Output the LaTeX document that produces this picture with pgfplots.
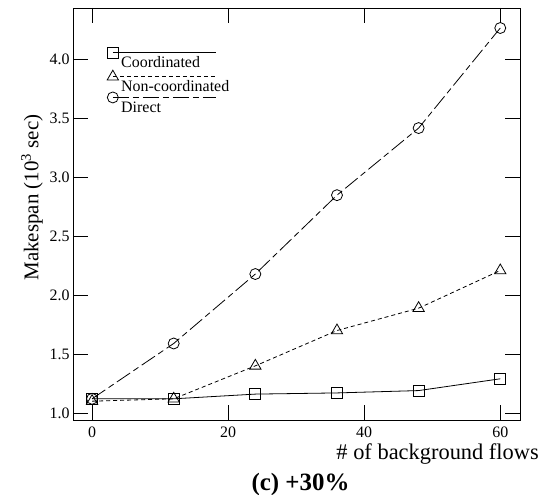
\documentclass[border=0pt]{standalone}
\usepackage{fontspec}
\setmainfont{Liberation Serif}
\usepackage{pgfplots}
\pgfplotsset{compat=1.18}
\newcommand{\legtext}[1]{\makebox[0pt][l]{\hspace*{-97bp}\raisebox{-16bp}[0pt][0pt]{#1}}}
\begin{document}
\begin{tikzpicture}
\begin{axis}[
  name=ax,
  scale only axis,
  width=447bp, height=412bp,
  xmin=-2.8, xmax=62.9,
  ymin=0.94, ymax=4.44,
  xtick={0,20,40,60},
  ytick={1.0,1.5,2.0,2.5,3.0,3.5,4.0},
  yticklabel style={/pgf/number format/fixed, /pgf/number format/fixed zerofill, /pgf/number format/precision=1},
  /pgf/number format/assume math mode=true,
  tick align=inside,
  major tick length=15bp,
  tick style={black, line width=0.8bp},
  axis line style={line width=0.8bp},
  ticklabel style={font=\fontsize{16}{18}\selectfont},
  xticklabel style={yshift=-3bp},
  xlabel={\# of background flows},
  ylabel={Makespan (10\textsuperscript{3} sec)},
  xlabel style={font=\fontsize{22.5}{26}\selectfont, at={(rel axis cs:1,0)}, anchor=north east, yshift=-24bp, xshift=19bp, inner sep=0pt},
  ylabel style={font=\fontsize{21}{24}\selectfont, at={(ticklabel cs:0.54)}},
  legend cell align=left,
  legend style={draw=none, fill=none, at={(rel axis cs:0.0,1)}, anchor=north west,
    xshift=34bp, yshift=-39bp, inner sep=0pt,
    font=\fontsize{16}{18}\selectfont,
    row sep=12bp},
  legend image code/.code={\draw[mark repeat=2, mark phase=1, #1] plot coordinates {(0bp,0bp) (103bp,0bp)};},
  every axis plot/.append style={line width=0.8bp, black, mark size=5.5bp, mark options={solid, fill=white, line width=0.8bp}},
  clip=false,
]
\addplot[mark=square] coordinates {(0,1.12) (12,1.12) (24,1.16) (36,1.17) (48,1.19) (60,1.29)};
\addlegendentry{\legtext{Coordinated}}
\addplot[dashed, dash pattern=on 4bp off 3bp, mark=triangle, mark size=6.5bp] coordinates {(0,1.10) (12,1.12) (24,1.40) (36,1.70) (48,1.89) (60,2.21)};
\addlegendentry{\legtext{Non-coordinated}}
\addplot[dash pattern=on 16bp off 4bp on 6bp off 4bp, mark=o] coordinates {(0,1.12) (12,1.59) (24,2.18) (36,2.85) (48,3.42) (60,4.27)};
\addlegendentry{\legtext{Direct}}
\end{axis}
\node[font=\bfseries\fontsize{25}{28}\selectfont, anchor=base] at ([yshift=-70bp, xshift=4bp]ax.south) {(c) +30\%};
\pgfresetboundingbox
\path[use as bounding box] ([xshift=-73bp,yshift=-75bp]ax.south west) rectangle ([xshift=22bp,yshift=8bp]ax.north east);
\end{tikzpicture}
\end{document}
